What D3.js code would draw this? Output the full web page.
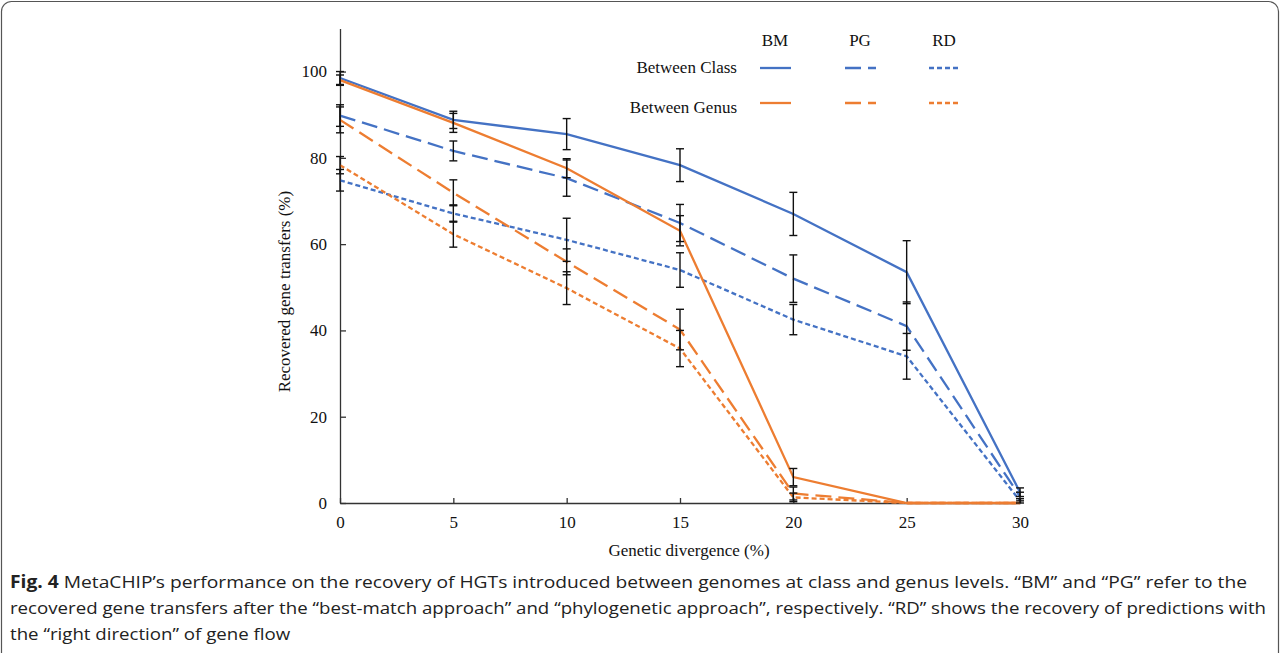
<!DOCTYPE html>
<html>
  <head>
    <meta charset="utf-8">
    <title>MetaCHIP recovery of HGTs</title>
    <script src="https://d3js.org/d3.v7.min.js"></script>
    <style>
      body { margin: 0; background: #fff; }
      svg { display: block; }
      .axis path, .axis line { stroke: #333; stroke-width: 1.3; }
      .axis text { font-family: "Liberation Serif", serif; font-size: 17px; fill: #111; }
      .label { font-family: "Liberation Serif", serif; font-size: 17px; fill: #111; }
      .caption { font-family: "Open Sans", sans-serif; font-size: 17px; fill: #222; }
    </style>
  </head>
  <body>
    <svg id="chart" width="1281" height="653"></svg>
    <script>
      // data
      const divergence = [0, 5, 10, 15, 20, 25, 30];
      const yTicks = [0, 20, 40, 60, 80, 100];
      const classBM = [98.5, 88.8, 85.5, 78.3, 67.0, 53.5, 2.5];
      const classBMErr = [1.5, 2.0, 3.6, 3.8, 5.0, 7.3, 1.0];
      const classPG = [89.8, 81.6, 75.3, 64.9, 52.0, 41.0, 1.5];
      const classPGErr = [2.5, 2.3, 4.2, 4.3, 5.5, 5.6, 1.0];
      const classRD = [74.8, 67.1, 61.0, 54.0, 42.5, 34.0, 0.5];
      const classRDErr = [2.5, 2.0, 5.0, 4.0, 3.5, 5.3, 0.5];
      const genusBM = [98.0, 88.1, 77.6, 63.1, 6.0, 0, 0];
      const genusBMErr = [1.2, 2.2, 2.2, 3.5, 2.0, 0, 0];
      const genusPG = [88.8, 71.9, 55.9, 40.2, 2.2, 0, 0];
      const genusPGErr = [3.0, 3.0, 3.0, 4.7, 1.5, 0, 0];
      const genusRD = [78.3, 62.3, 49.8, 35.8, 1.3, 0, 0];
      const genusRDErr = [2.0, 3.0, 3.8, 4.2, 1.0, 0, 0];
      const methods = ["BM", "PG", "RD"];
      const groups = ["Between Class", "Between Genus"];
      const captionLines = [
        ["Fig. 4", " MetaCHIP\u2019s performance on the recovery of HGTs introduced between genomes at class and genus levels. \u201cBM\u201d and \u201cPG\u201d refer to the"],
        ["", "recovered gene transfers after the \u201cbest-match approach\u201d and \u201cphylogenetic approach\u201d, respectively. \u201cRD\u201d shows the recovery of predictions with"],
        ["", "the \u201cright direction\u201d of gene flow"]
      ];

      const blue = "#4472C4";
      const orange = "#ED7D31";
      const dashes = { BM: null, PG: "16,7", RD: "5,3" };

      const series = [
        { group: "Between Class", method: "BM", values: classBM, err: classBMErr, colour: blue },
        { group: "Between Class", method: "PG", values: classPG, err: classPGErr, colour: blue },
        { group: "Between Class", method: "RD", values: classRD, err: classRDErr, colour: blue },
        { group: "Between Genus", method: "BM", values: genusBM, err: genusBMErr, colour: orange },
        { group: "Between Genus", method: "PG", values: genusPG, err: genusPGErr, colour: orange },
        { group: "Between Genus", method: "RD", values: genusRD, err: genusRDErr, colour: orange }
      ];

      const svg = d3.select("#chart");

      // frame round the figure (open at the bottom)
      svg.append("rect")
        .attr("x", 1.5).attr("y", 1.5)
        .attr("width", 1277).attr("height", 720)
        .attr("rx", 10)
        .attr("fill", "none")
        .attr("stroke", "#555")
        .attr("stroke-width", 1.2);

      const x = d3.scaleLinear().domain([0, 30]).range([340, 1020]);
      const y = d3.scaleLinear().domain([0, 110]).range([503, 28.4]);

      // axes, ticks pointing inwards
      svg.append("g")
        .attr("class", "axis")
        .attr("transform", "translate(0," + y(0) + ")")
        .call(d3.axisBottom(x).tickValues(divergence).tickFormat(d3.format("d"))
          .tickSizeInner(-5).tickSizeOuter(0).tickPadding(13));
      svg.append("g")
        .attr("class", "axis")
        .attr("transform", "translate(" + x(0) + ",0)")
        .call(d3.axisLeft(y).tickValues(yTicks).tickFormat(d3.format("d"))
          .tickSizeInner(-6).tickSizeOuter(0).tickPadding(13));

      svg.append("text")
        .attr("class", "label")
        .attr("transform", "translate(290," + y(49) + ") rotate(-90)")
        .attr("text-anchor", "middle")
        .text("Recovered gene transfers (%)");
      svg.append("text")
        .attr("class", "label")
        .attr("x", 689).attr("y", 556)
        .attr("text-anchor", "middle")
        .text("Genetic divergence (%)");

      // lines
      const line = d3.line()
        .x(function(d, i) { return x(divergence[i]); })
        .y(function(d) { return y(d); });

      svg.append("g").selectAll("path")
          .data(series)
        .enter().append("path")
          .attr("d", function(d) { return line(d.values); })
          .attr("fill", "none")
          .attr("stroke", function(d) { return d.colour; })
          .attr("stroke-width", 2.3)
          .attr("stroke-dasharray", function(d) { return dashes[d.method]; });

      // error bars
      const bars = [];
      series.forEach(function(s) {
        s.values.forEach(function(v, i) {
          if (s.err[i] > 0) bars.push({ x: divergence[i], lo: v - s.err[i], hi: v + s.err[i] });
        });
      });
      const errGroup = svg.append("g")
        .attr("stroke", "#111")
        .attr("stroke-width", 1.4);
      errGroup.selectAll(".stem")
          .data(bars)
        .enter().append("line")
          .attr("x1", function(d) { return x(d.x); })
          .attr("x2", function(d) { return x(d.x); })
          .attr("y1", function(d) { return y(d.lo); })
          .attr("y2", function(d) { return y(d.hi); });
      ["lo", "hi"].forEach(function(k) {
        errGroup.selectAll(".cap-" + k)
            .data(bars)
          .enter().append("line")
            .attr("x1", function(d) { return x(d.x) - 4; })
            .attr("x2", function(d) { return x(d.x) + 4; })
            .attr("y1", function(d) { return y(d[k]); })
            .attr("y2", function(d) { return y(d[k]); });
      });

      // legend
      const legendX = { BM: 775, PG: 860, RD: 944 };
      const legendY = { "Between Class": 68, "Between Genus": 103 };
      svg.selectAll(".method")
          .data(methods)
        .enter().append("text")
          .attr("class", "label")
          .attr("x", function(d) { return legendX[d]; })
          .attr("y", 46)
          .attr("text-anchor", "middle")
          .text(function(d) { return d; });
      svg.selectAll(".group")
          .data(groups)
        .enter().append("text")
          .attr("class", "label")
          .attr("x", 737)
          .attr("y", function(d) { return legendY[d] + (d == "Between Class" ? 5 : 10); })
          .attr("text-anchor", "end")
          .text(function(d) { return d; });
      svg.selectAll(".key")
          .data(series)
        .enter().append("line")
          .attr("x1", function(d) { return legendX[d.method] - 15; })
          .attr("x2", function(d) { return legendX[d.method] + 16; })
          .attr("y1", function(d) { return legendY[d.group]; })
          .attr("y2", function(d) { return legendY[d.group]; })
          .attr("stroke", function(d) { return d.colour; })
          .attr("stroke-width", 2.3)
          .attr("stroke-dasharray", function(d) { return dashes[d.method]; });

      // caption, squeezed to the widths of the original lines
      const caption = svg.append("g").attr("class", "caption");
      const captionTexts = caption.selectAll("text")
          .data(captionLines)
        .enter().append("text")
          .attr("x", 10)
          .attr("y", function(d, i) { return 588 + i * 26; });
      captionTexts.append("tspan")
        .attr("font-weight", "bold")
        .text(function(d) { return d[0]; });
      captionTexts.append("tspan")
        .text(function(d) { return d[1]; });
      const natural = captionTexts.nodes().map(function(n) { return n.getComputedTextLength(); });
      const ratio = 1256 / natural[1];
      captionTexts
        .attr("textLength", function(d, i) { return i == 0 ? 1237 : natural[i] * ratio; })
        .attr("lengthAdjust", "spacingAndGlyphs");
    </script>
  </body>
</html>
